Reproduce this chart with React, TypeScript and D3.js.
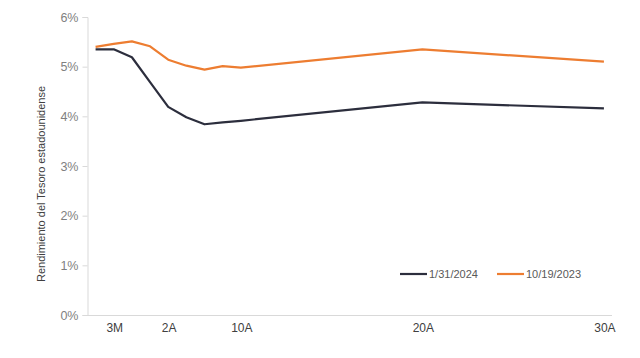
import React, { useRef, useEffect } from 'react';
import * as d3 from 'd3';

// maturities and their slot on the category axis (Excel-style gaps between 10A, 20A, 30A)
const maturities = ['1M', '3M', '6M', '1A', '2A', '3A', '5A', '7A', '10A', '20A', '30A'];
const slots = [0, 1, 2, 3, 4, 5, 6, 7, 8, 18, 28];
const tickLabels = ['3M', '2A', '10A', '20A', '30A'];

const jan2024 = [5.35, 5.35, 5.19, 4.69, 4.19, 3.98, 3.84, 3.88, 3.91, 4.28, 4.16];
const oct2023 = [5.4, 5.46, 5.51, 5.41, 5.14, 5.02, 4.94, 5.01, 4.98, 5.35, 5.1];

const seriesNames = ['1/31/2024', '10/19/2023'];
const seriesColors = ['#2c2e3d', '#ed7d31'];

const App: React.FC = () => {
  const svgRef = useRef<SVGSVGElement>(null);

  useEffect(() => {
    const svg = d3.select(svgRef.current);
    const width = 640;
    const height = 358;
    svg.selectAll('*').remove();
    svg.attr('width', width).attr('height', height);

    const font = 'Liberation Sans, Arial, sans-serif';
    const x = d3.scaleLinear().domain([-0.5, 28.5]).range([86.5, 613]);
    const y = d3.scaleLinear().domain([0, 6]).range([315, 17]);

    // y axis
    const yAxis = svg
      .append('g')
      .attr('transform', 'translate(87.5,0)')
      .call(
        d3
          .axisLeft(y)
          .ticks(6)
          .tickSize(5)
          .tickPadding(4)
          .tickFormat((d: any) => `${d}%`)
      );
    yAxis.select('.domain').attr('stroke', '#d9d9d9');
    yAxis.selectAll('.tick line').attr('stroke', '#d9d9d9');
    yAxis
      .selectAll('.tick text')
      .attr('fill', '#7f7f7f')
      .style('font-family', font)
      .style('font-size', '12.5px');

    // x axis line
    svg
      .append('line')
      .attr('x1', 83)
      .attr('x2', 612)
      .attr('y1', y(0) + 0.5)
      .attr('y2', y(0) + 0.5)
      .attr('stroke', '#d9d9d9');

    svg
      .append('g')
      .selectAll('text')
      .data(tickLabels)
      .enter()
      .append('text')
      .attr('x', (d) => x(slots[maturities.indexOf(d)]) + 1)
      .attr('y', 332)
      .attr('text-anchor', 'middle')
      .attr('fill', '#404040')
      .style('font-family', 'Liberation Sans Narrow, Arial Narrow, ' + font)
      .style('font-size', '12px')
      .text((d) => d);

    // axis title
    svg
      .append('text')
      .attr('transform', `translate(45,${(y(6) + y(0)) / 2 + 18}) rotate(-90)`)
      .attr('text-anchor', 'middle')
      .attr('fill', '#404040')
      .style('font-family', font)
      .style('font-size', '11px')
      .text('Rendimiento del Tesoro estadounidense');

    const line = d3
      .line<number>()
      .x((_, i) => x(slots[i]))
      .y((d) => y(d));

    [jan2024, oct2023].forEach((values, k) => {
      svg
        .append('path')
        .datum(values)
        .attr('d', line)
        .attr('fill', 'none')
        .attr('stroke', seriesColors[k])
        .attr('stroke-width', 2.2)
        .attr('stroke-linejoin', 'round');
    });

    // legend
    const legend = svg.append('g');
    const legendX = [400, 497];
    seriesNames.forEach((name, k) => {
      legend
        .append('line')
        .attr('x1', legendX[k])
        .attr('x2', legendX[k] + 27)
        .attr('y1', 274)
        .attr('y2', 274)
        .attr('stroke', seriesColors[k])
        .attr('stroke-width', 2.2);
      legend
        .append('text')
        .attr('x', legendX[k] + 29)
        .attr('y', 278)
        .attr('fill', '#595959')
        .style('font-family', font)
        .style('font-size', '11px')
        .text(name);
    });
  }, []);

  return <svg ref={svgRef} style={{ position: 'absolute', left: 0, top: 0 }} />;
};

export default App;
